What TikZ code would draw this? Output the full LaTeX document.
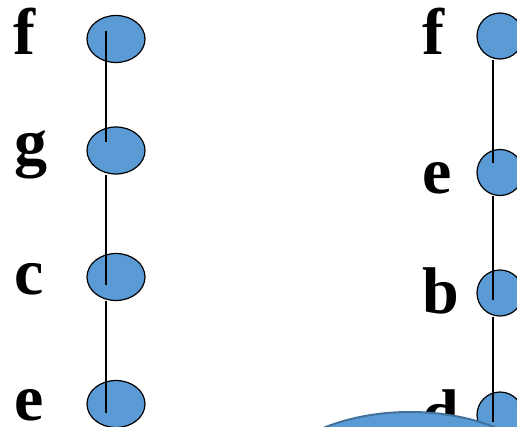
\documentclass[tikz,border=0pt]{standalone}
\usepackage{fontspec}
\setmainfont{Liberation Serif}
\usetikzlibrary{calc,shapes.geometric}
\definecolor{ovalblue}{HTML}{5B9BD5}
\definecolor{rimblue}{HTML}{41719C}

\begin{document}
\begin{tikzpicture}[x=1pt, y=-1pt,
    dot/.style={draw=black, fill=ovalblue, ellipse, inner sep=0pt, line width=1.2pt, minimum width=58pt, minimum height=47pt},
    ring/.style={draw=black, fill=ovalblue, circle, inner sep=0pt, line width=1.2pt, minimum size=46pt},
    blob/.style={draw=rimblue, fill=ovalblue, ellipse, inner sep=0pt, line width=2pt, minimum width=320pt, minimum height=200pt},
    lbl/.style={anchor=base west, inner sep=0pt, font=\bfseries\fontsize{66}{66}\selectfont},
    link/.style={line width=1.2pt, black},
]
\clip (0,0) rectangle (517,426);
\fill[white] (0,0) rectangle (517,426);

\node[lbl] (tf) at (13,54) {f};
\node[lbl] (tg) at (14,164) {g};
\node[lbl] (tc) at (14,294) {c};
\node[lbl] (te) at (14,420) {e};

\node[dot] (lf) at (116,39) {};
\node[dot] (lg) at (116,150.5) {};
\node[dot] (lc) at (116,277) {};
\node[dot] (le) at (116,404) {};

\node[lbl] (uf) at (422,54) {f};
\node[lbl] (ue) at (422,193) {e};
\node[lbl] (ub) at (422,313) {b};
\node[lbl] (ud) at (422,435) {d};

\node[ring] (rf) at (500,36) {};
\node[ring] (re) at (500,172.5) {};
\node[ring] (rb) at (500,293) {};
\node[ring] (rd) at (500,415) {};

\node[blob] (base) at (410,512) {};

\draw[link] ($(lf.center)+(-10,-8)$) -- ($(lg.center)+(-10,-8.5)$);
\draw[link] ($(lg.south)+(-10,0)$) -- ($(lc.center)+(-10,8)$);
\draw[link] ($(lc.south)+(-10,0)$) -- ($(le.center)+(-10,9)$);

\draw[link] ($(rf.south)+(-7,0)$) -- ($(re.center)+(-7,-9.5)$);
\draw[link] ($(re.south)+(-7,0)$) -- ($(rb.center)+(-7,7)$);
\draw[link] ($(rb.south)+(-7,0)$) -- ($(rd.center)+(-7,7)$);
\end{tikzpicture}
\end{document}
